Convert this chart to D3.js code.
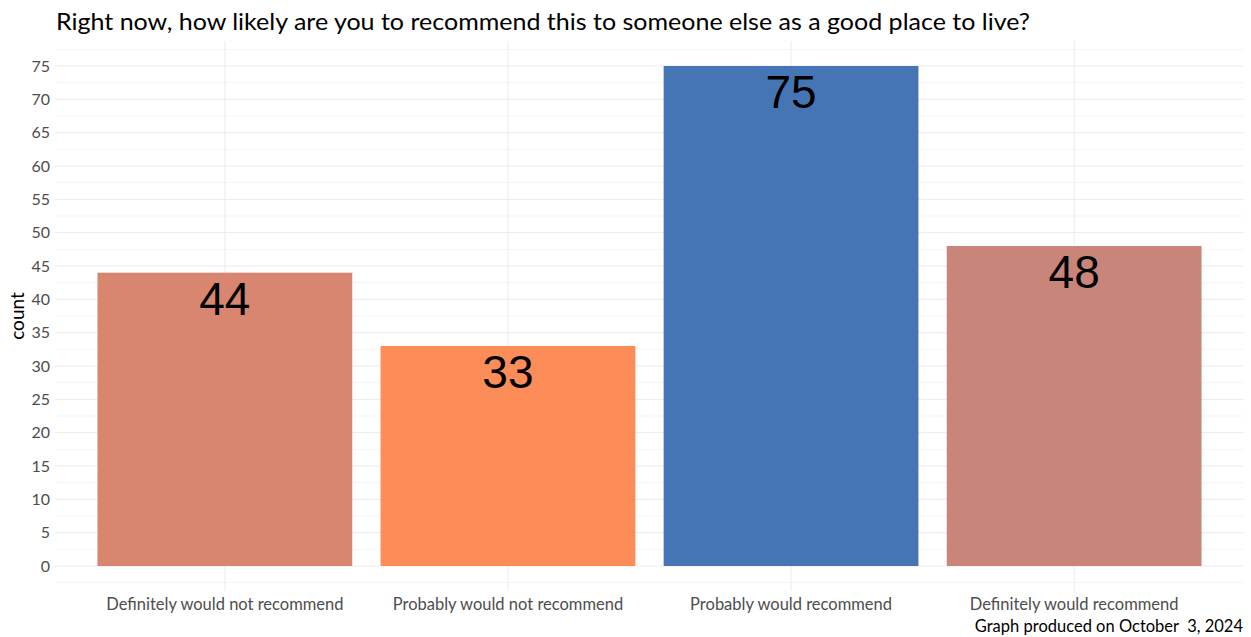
<!DOCTYPE html>
<html lang="en">
<head>
    <meta charset="UTF-8">
    <title>Recommend</title>
    <style>
        body { margin: 0; background: #fff; }
        text { font-family: Lato, "Open Sans", sans-serif; }
    </style>
</head>
<body>
    <svg></svg>
    <script src="https://d3js.org/d3.v7.min.js"></script>
    <script>
        var categories = ["Definitely would not recommend", "Probably would not recommend",
            "Probably would recommend", "Definitely would recommend"];
        var counts = [44, 33, 75, 48];
        var colors = ["#D8866F", "#FC8D59", "#4575B4", "#CA857B"];
        var yTicks = [0, 5, 10, 15, 20, 25, 30, 35, 40, 45, 50, 55, 60, 65, 70, 75];
        var yMinor = [-2.5, 2.5, 7.5, 12.5, 17.5, 22.5, 27.5, 32.5, 37.5, 42.5, 47.5, 52.5, 57.5, 62.5, 67.5, 72.5, 77.5];
        var title = "Right now, how likely are you to recommend this to someone else as a good place to live?";
        var caption = "Graph produced on October  3, 2024";

        var svgWidth = 1251, svgHeight = 637;
        var panel = { left: 55, right: 1244, top: 41, bottom: 591 };

        var svg = d3.select("svg")
            .attr("width", svgWidth)
            .attr("height", svgHeight);

        // discrete x, 0.6 category expansion on each side (like ggplot)
        var x = d3.scalePoint()
            .domain(categories)
            .range([panel.left, panel.right])
            .padding(0.6);
        var barW = x.step() * 0.9;

        var y = d3.scaleLinear().domain([-3.75, 78.75]).range([panel.bottom, panel.top]);

        var g = svg.append("g");

        // minor grid
        g.selectAll(".minor").data(yMinor).enter().append("line")
            .attr("x1", panel.left).attr("x2", panel.right)
            .attr("y1", function(d) { return y(d); })
            .attr("y2", function(d) { return y(d); })
            .attr("stroke", "#F2F2F2").attr("stroke-width", 0.8);
        // major grid
        g.selectAll(".major").data(yTicks).enter().append("line")
            .attr("x1", panel.left).attr("x2", panel.right)
            .attr("y1", function(d) { return y(d); })
            .attr("y2", function(d) { return y(d); })
            .attr("stroke", "#EBEBEB").attr("stroke-width", 1);
        g.selectAll(".vgrid").data(categories).enter().append("line")
            .attr("x1", function(d) { return x(d); })
            .attr("x2", function(d) { return x(d); })
            .attr("y1", panel.top).attr("y2", panel.bottom)
            .attr("stroke", "#EBEBEB").attr("stroke-width", 1);

        // bars
        g.selectAll(".bar").data(counts).enter().append("rect")
            .attr("x", function(d, i) { return x(categories[i]) - barW / 2; })
            .attr("width", barW)
            .attr("y", function(d) { return y(d); })
            .attr("height", function(d) { return y(0) - y(d); })
            .attr("fill", function(d, i) { return colors[i]; });

        // value labels
        g.selectAll(".val").data(counts).enter().append("text")
            .attr("x", function(d, i) { return x(categories[i]); })
            .attr("y", function(d) { return y(d) + 42; })
            .attr("text-anchor", "middle")
            .style("font-family", "'Liberation Sans', Arial, sans-serif")
            .style("font-size", "46px")
            .attr("fill", "#000")
            .text(function(d) { return d; });

        // y tick labels
        g.selectAll(".ytick").data(yTicks).enter().append("text")
            .attr("x", 50)
            .attr("y", function(d) { return y(d); })
            .attr("dy", "0.36em")
            .attr("text-anchor", "end")
            .attr("fill", "#4D4D4D")
            .style("font-size", "16px")
            .text(function(d) { return d; });

        // x tick labels
        g.selectAll(".xtick").data(categories).enter().append("text")
            .attr("x", function(d) { return x(d); })
            .attr("y", 610)
            .attr("text-anchor", "middle")
            .attr("fill", "#4D4D4D")
            .style("font-size", "16.5px")
            .text(function(d) { return d; });

        // y axis title
        svg.append("text")
            .attr("transform", "translate(24," + ((panel.top + panel.bottom) / 2) + ") rotate(-90)")
            .attr("text-anchor", "middle")
            .attr("fill", "#000")
            .style("font-size", "19px")
            .text("count");

        svg.append("text")
            .attr("x", 56).attr("y", 30)
            .attr("fill", "#000")
            .style("font-size", "23px")
            .attr("textLength", 974)
            .attr("lengthAdjust", "spacingAndGlyphs")
            .text(title);

        svg.append("text")
            .attr("x", 1243).attr("y", 632)
            .attr("text-anchor", "end")
            .attr("fill", "#000")
            .style("font-size", "16.5px")
            .style("white-space", "pre")
            .text(caption);
    </script>
</body>
</html>
